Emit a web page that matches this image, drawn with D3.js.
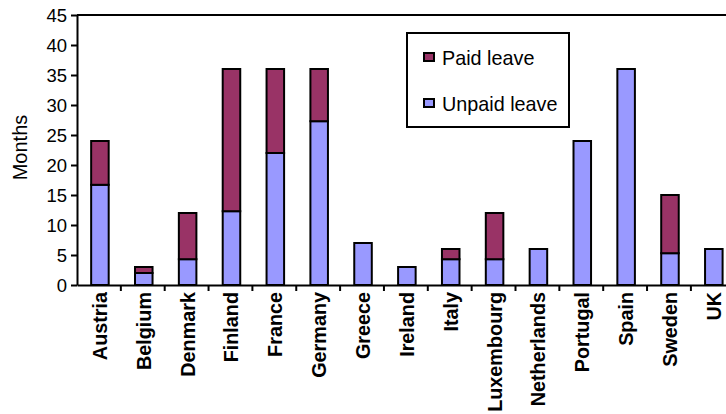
<!DOCTYPE html>
<html>
<head>
<meta charset="utf-8">
<script src="https://cdn.jsdelivr.net/npm/d3@7"></script>
<style>
  html, body { margin: 0; padding: 0; background: #fff; }
  svg { display: block; font-family: Arial, "Liberation Sans", sans-serif; }
</style>
</head>
<body>
<svg id="chart" width="726" height="414"></svg>
<script>
const countries = ["Austria","Belgium","Denmark","Finland","France","Germany","Greece","Ireland","Italy","Luxembourg","Netherlands","Portugal","Spain","Sweden","UK"];
const unpaidLeave = [16.7, 2, 4.3, 12.3, 22, 27.3, 7, 3, 4.3, 4.3, 6, 24, 36, 5.3, 6];
const paidLeave   = [7.3, 1, 7.7, 23.7, 14, 8.7, 0, 0, 1.7, 7.7, 0, 0, 0, 9.7, 0];
const yTicks = [0, 5, 10, 15, 20, 25, 30, 35, 40, 45];
const seriesNames = ["Paid leave", "Unpaid leave"];
const seriesColors = ["#993366", "#9999FF"];

(function () {
const svg = d3.select("#chart");
const mLeft = 77, mTop = 15, mBottom = 285;
const step = 43.85;
const mRight = mLeft + step * countries.length;

const x = d3.scaleBand().domain(countries).range([mLeft, mRight]).paddingInner(0.6).paddingOuter(0.3);
const xOuter = d3.scaleBand().domain(countries).range([mLeft, mRight]);
const y = d3.scaleLinear().domain([0, 45]).range([mBottom, mTop]);

// plot area border (top line; right edge is off-canvas)
svg.append("line").attr("x1", mLeft).attr("x2", mRight).attr("y1", mTop).attr("y2", mTop)
  .attr("stroke", "#000").attr("stroke-width", 2);
svg.append("line").attr("x1", mRight).attr("x2", mRight).attr("y1", mTop).attr("y2", mBottom)
  .attr("stroke", "#000").attr("stroke-width", 2);

// bars
const data = countries.map((c, i) => ({ c, unpaid: unpaidLeave[i], paid: paidLeave[i] }));
const stack = d3.stack().keys(["unpaid", "paid"])(data);
const colorByKey = { unpaid: seriesColors[1], paid: seriesColors[0] };
stack.forEach(layer => {
  svg.append("g").selectAll("rect")
    .data(layer.filter(d => d[1] - d[0] > 0))
    .join("rect")
    .attr("x", d => x(d.data.c) + 1)
    .attr("width", x.bandwidth())
    .attr("y", d => y(d[1]))
    .attr("height", d => y(d[0]) - y(d[1]))
    .attr("fill", colorByKey[layer.key])
    .attr("stroke", "#000")
    .attr("stroke-width", 2);
});

// y axis
const yAxis = svg.append("g").attr("transform", `translate(${mLeft},0)`)
  .call(d3.axisLeft(y).tickValues(yTicks).tickSize(6).tickSizeOuter(0).tickPadding(4));
yAxis.select(".domain").attr("stroke", "#000").attr("stroke-width", 2);
yAxis.selectAll(".tick line").attr("stroke", "#000").attr("stroke-width", 2);
yAxis.selectAll(".tick text").attr("font-size", "18.5px").attr("fill", "#000")
  .attr("font-family", "Arial, 'Liberation Sans', sans-serif").attr("dy", "0.36em");

// x axis
const xAxis = svg.append("g").attr("transform", `translate(0,${mBottom})`)
  .call(d3.axisBottom(xOuter).tickSize(0).tickSizeOuter(0).tickFormat(""));
xAxis.select(".domain").attr("stroke", "#000").attr("stroke-width", 2);
xAxis.selectAll(".tick").remove();
svg.append("g").selectAll("line")
  .data(countries.slice(1))
  .join("line")
  .attr("x1", d => xOuter(d)).attr("x2", d => xOuter(d))
  .attr("y1", mBottom).attr("y2", mBottom + 6)
  .attr("stroke", "#000").attr("stroke-width", 2);

svg.append("g").selectAll("text")
  .data(countries)
  .join("text")
  .attr("transform", d => `translate(${xOuter(d) + xOuter.bandwidth() / 2 + 1},${mBottom + 7}) rotate(-90)`)
  .attr("text-anchor", "end")
  .attr("dy", "0.35em")
  .attr("font-size", "19.8px")
  .attr("font-weight", "bold")
  .attr("fill", "#000")
  .text(d => d);

// y title
svg.append("text")
  .attr("transform", "translate(20,147.5) rotate(-90)")
  .attr("text-anchor", "middle")
  .attr("dy", "0.35em")
  .attr("font-size", "20px")
  .attr("fill", "#000")
  .text("Months");

// legend
const lg = svg.append("g");
lg.append("rect").attr("x", 407).attr("y", 33).attr("width", 162).attr("height", 94)
  .attr("fill", "#fff").attr("stroke", "#000").attr("stroke-width", 2);
const legendY = [57, 103];
seriesNames.forEach((name, i) => {
  lg.append("rect").attr("x", 424).attr("y", legendY[i] - 4).attr("width", 10).attr("height", 8)
    .attr("fill", seriesColors[i]).attr("stroke", "#000").attr("stroke-width", 2);
  lg.append("text").attr("x", 442).attr("y", legendY[i] + 8)
    .attr("font-size", "19.8px").attr("fill", "#000").text(name);
});
})();
</script>
</body>
</html>
